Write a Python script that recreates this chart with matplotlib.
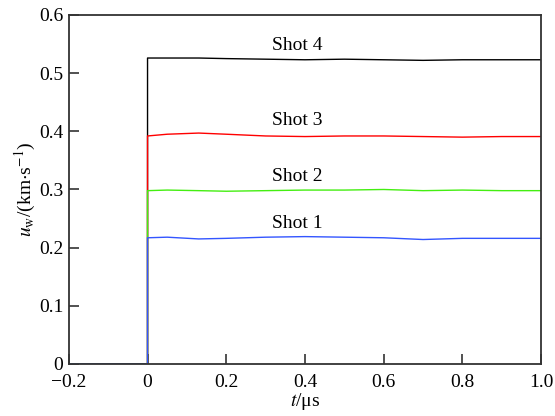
import matplotlib
matplotlib.use("Agg")
import matplotlib.pyplot as plt

plt.rcParams['font.family'] = ['Liberation Serif', 'DejaVu Serif']
plt.rcParams['mathtext.fontset'] = 'stix'

# --- Data ---
t_pts = [-0.2, 0.0, 0.0, 0.05, 0.13, 0.2, 0.3, 0.4, 0.5, 0.6, 0.7, 0.8, 0.9, 1.0]
shot1 = [0, 0, 0.217, 0.218, 0.215, 0.216, 0.218, 0.219, 0.218, 0.217, 0.214, 0.216, 0.216, 0.216]
shot2 = [0, 0, 0.298, 0.299, 0.298, 0.297, 0.298, 0.299, 0.299, 0.300, 0.298, 0.299, 0.298, 0.298]
shot3 = [0, 0, 0.392, 0.395, 0.397, 0.395, 0.392, 0.391, 0.392, 0.392, 0.391, 0.390, 0.391, 0.391]
shot4 = [0, 0, 0.526, 0.526, 0.526, 0.525, 0.524, 0.523, 0.524, 0.523, 0.522, 0.523, 0.523, 0.523]

labels = ['Shot 1', 'Shot 2', 'Shot 3', 'Shot 4']
colors = ['#3355ff', '#44ee11', '#ff0000', '#000000']
label_pos = [(0.38, 0.242), (0.38, 0.322), (0.38, 0.418), (0.38, 0.547)]

xticks = [-0.2, 0, 0.2, 0.4, 0.6, 0.8, 1.0]
xticklabels = ['\u22120.2', '0', '0.2', '0.4', '0.6', '0.8', '1.0']
yticks = [0, 0.1, 0.2, 0.3, 0.4, 0.5, 0.6]
yticklabels = ['0', '0.1', '0.2', '0.3', '0.4', '0.5', '0.6']

fig = plt.figure(figsize=(5.55, 4.16), dpi=100)
ax = fig.add_axes([0.124, 0.125, 0.851, 0.839])

for ys, c in zip([shot4, shot3, shot2, shot1], colors[::-1]):
    ax.plot(t_pts, ys, color=c, linewidth=1.0)

for lab, (lx, ly) in zip(labels, label_pos):
    ax.text(lx, ly, lab, ha='center', va='center', fontsize=14)

ax.set_xlim(-0.2, 1.0)
ax.set_ylim(0, 0.6)
ax.set_xticks(xticks)
ax.set_xticklabels(xticklabels)
ax.set_yticks(yticks)
ax.set_yticklabels(yticklabels)
ax.tick_params(direction='in', length=7, width=1.2, labelsize=14, color='#333333')
ax.tick_params(axis='x', pad=7)
ax.tick_params(axis='y', pad=4)

for s in ax.spines.values():
    s.set_color('#333333')
    s.set_linewidth(1.3)

ax.set_xlabel('$t$/\u03bcs', fontsize=14, labelpad=0)
ax.set_ylabel(r'$u_{\rm w}$/(km$\cdot$s$^{-1}$)', fontsize=14, labelpad=1)

plt.savefig('out.png', dpi=100)
